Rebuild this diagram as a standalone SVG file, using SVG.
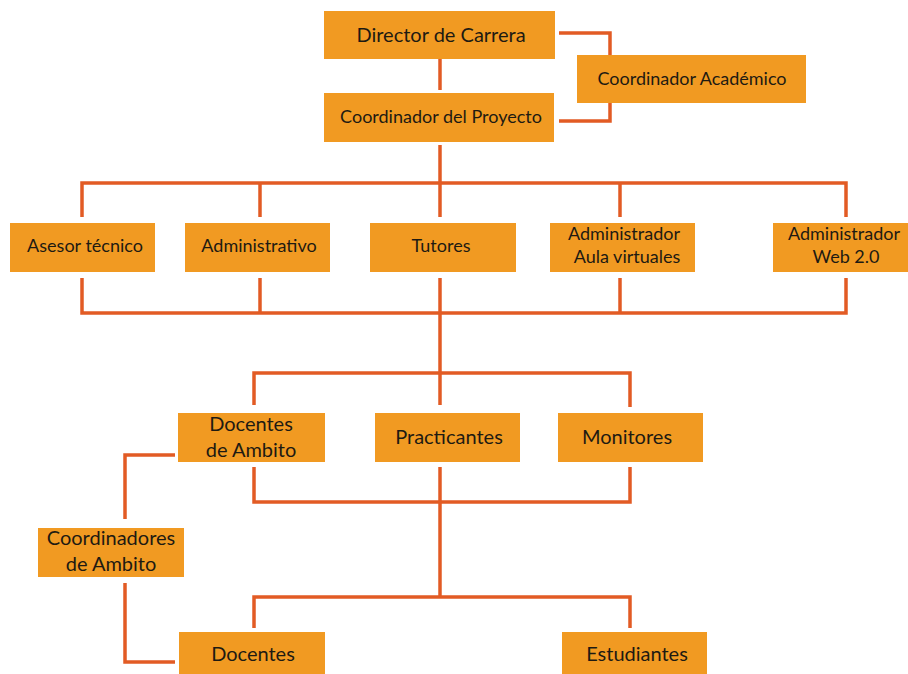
<svg xmlns="http://www.w3.org/2000/svg" width="908" height="674" viewBox="0 0 908 674">
<style>
.box{fill:#F19A22}
.t{font-family:Lato,"Open Sans","Liberation Sans",sans-serif;fill:#1E1A12;text-anchor:middle}
.s20{font-size:20px}
.s18{font-size:18px}
.c{fill:none;stroke:#E25B24;stroke-width:3.5;stroke-linejoin:miter}
</style>
<rect width="908" height="674" fill="#fff"/>
<g id="connectors">
<path class="c" d="M440 57V90"/>
<path class="c" d="M559 33H610V55"/>
<path class="c" d="M559 121H610V103"/>
<path class="c" d="M440 145V183"/>
<path class="c" d="M82 217V183H846V217"/>
<path class="c" d="M260 183V217"/>
<path class="c" d="M440 183V217"/>
<path class="c" d="M620 183V217"/>
<path class="c" d="M82 278V313H846V278"/>
<path class="c" d="M260 278V313"/>
<path class="c" d="M620 278V313"/>
<path class="c" d="M440 278V373"/>
<path class="c" d="M254 405V373H630V407"/>
<path class="c" d="M440 373V405"/>
<path class="c" d="M254 467V502H630V467"/>
<path class="c" d="M440 467V597"/>
<path class="c" d="M254 628V597H630V628"/>
<path class="c" d="M175 455H125V519"/>
<path class="c" d="M125 583V662H175"/>
</g>
<g id="director"><rect class="box" x="324" y="11" width="231" height="48"/><text class="t s20" x="441" y="42">Director de Carrera</text></g>
<g id="coord-academico"><rect class="box" x="577" y="55" width="229" height="48"/><text class="t s18" x="692" y="85">Coordinador Académico</text></g>
<g id="coord-proyecto"><rect class="box" x="324" y="93" width="230" height="49"/><text class="t s18" x="441" y="123">Coordinador del Proyecto</text></g>
<g id="asesor"><rect class="box" x="10" y="223" width="145" height="49"/><text class="t s18" x="85" y="252">Asesor técnico</text></g>
<g id="administrativo"><rect class="box" x="185" y="223" width="145" height="49"/><text class="t s18" x="259" y="252">Administrativo</text></g>
<g id="tutores"><rect class="box" x="370" y="223" width="146" height="49"/><text class="t s18" x="441" y="252">Tutores</text></g>
<g id="admin-aula"><rect class="box" x="550" y="223" width="145" height="49"/><text class="t s18" x="624" y="240">Administrador</text><text class="t s18" x="627" y="263">Aula virtuales</text></g>
<g id="admin-web"><rect class="box" x="773" y="223" width="135" height="49"/><text class="t s18" x="844" y="240">Administrador</text><text class="t s18" x="846" y="263">Web 2.0</text></g>
<g id="docentes-ambito"><rect class="box" x="178" y="413" width="147" height="49"/><text class="t s20" x="251" y="431">Docentes</text><text class="t s20" x="251" y="457">de Ambito</text></g>
<g id="practicantes"><rect class="box" x="375" y="413" width="145" height="49"/><text class="t s20" x="449" y="444">Practicantes</text></g>
<g id="monitores"><rect class="box" x="558" y="413" width="145" height="49"/><text class="t s20" x="627" y="444">Monitores</text></g>
<g id="coord-ambito"><rect class="box" x="38" y="528" width="146" height="49"/><text class="t s20" x="111" y="545">Coordinadores</text><text class="t s20" x="111" y="571">de Ambito</text></g>
<g id="docentes"><rect class="box" x="179" y="632" width="146" height="42"/><text class="t s20" x="253" y="661">Docentes</text></g>
<g id="estudiantes"><rect class="box" x="562" y="632" width="145" height="42"/><text class="t s20" x="637" y="661">Estudiantes</text></g>
</svg>
